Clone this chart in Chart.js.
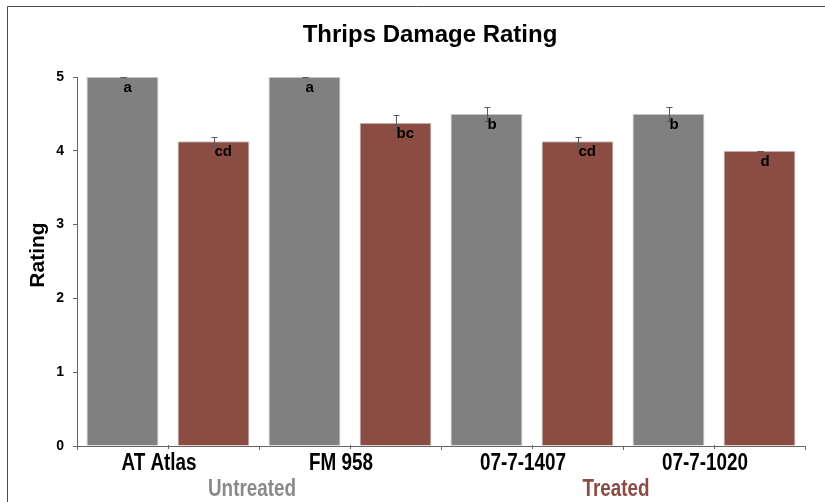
<!DOCTYPE html>
<html>
<head>
    <title>Thrips Damage Rating</title>
    <script src="https://cdn.jsdelivr.net/npm/chart.js@4.4.1/dist/chart.umd.min.js"></script>
    <style>
        body {
            margin: 0;
            padding: 0;
            background: #ffffff;
        }
        #wrap {
            width: 825px;
            height: 502px;
        }
    </style>
</head>
<body>
    <div id="wrap">
        <canvas id="barChart" width="825" height="502"></canvas>
    </div>

    <script>
        // chart values
        const categories = ['AT Atlas', 'FM 958', '07-7-1407', '07-7-1020'];
        const untreated = [5, 5, 4.5, 4.5];
        const treated = [4.13, 4.38, 4.13, 4.0];
        const untreatedErr = [0, 0, 0.09, 0.09];
        const treatedErr = [0.06, 0.1, 0.06, 0];
        const untreatedLetters = ['a', 'a', 'b', 'b'];
        const treatedLetters = ['cd', 'bc', 'cd', 'd'];
        const yTicks = [0, 1, 2, 3, 4, 5];

        const font = '"Liberation Sans", Arial, sans-serif';
        const grey = '#808080';
        const brown = '#8b4c43';

        // the original uses a condensed bold face, so squeeze Liberation Sans a bit
        function narrowText(ctx, text, cx, y, size, color) {
            ctx.save();
            ctx.translate(cx, y);
            ctx.scale(0.82, 1);
            ctx.font = 'bold ' + size + 'px ' + font;
            ctx.fillStyle = color;
            ctx.textAlign = 'center';
            ctx.textBaseline = 'alphabetic';
            ctx.fillText(text, 0, 0);
            ctx.restore();
        }

        // error bars, letters, extra ticks and the text round the plot
        const extras = {
            id: 'extras',
            afterDraw(chart) {
                const ctx = chart.ctx;
                const x = chart.scales.x;
                const y = chart.scales.y;
                ctx.save();

                // frame (left + top only)
                ctx.strokeStyle = '#4a4a4a';
                ctx.lineWidth = 1;
                ctx.beginPath();
                ctx.moveTo(7.5, 502);
                ctx.lineTo(7.5, 6.5);
                ctx.lineTo(825, 6.5);
                ctx.stroke();

                // tick marks at category centres + category names
                ctx.strokeStyle = '#666666';
                ctx.beginPath();
                categories.forEach((c, i) => {
                    const px = Math.round(x.getPixelForValue(i)) + 0.5;
                    ctx.moveTo(px, y.bottom - 1);
                    ctx.lineTo(px, y.bottom + 3);
                });
                ctx.stroke();
                categories.forEach((c, i) => {
                    narrowText(ctx, c, x.getPixelForValue(i) - 9, 470, 23, '#000000');
                });

                chart.data.datasets.forEach((ds, di) => {
                    const meta = chart.getDatasetMeta(di);
                    meta.data.forEach((bar, i) => {
                        const v = ds.data[i];
                        const e = ds.err[i];
                        const cx = Math.round(bar.x) + 0.5;
                        const yt = Math.round(y.getPixelForValue(v + e)) + 0.5;
                        const yb = Math.round(y.getPixelForValue(v - e)) + 0.5;
                        ctx.strokeStyle = '#5a5a5a';
                        ctx.beginPath();
                        ctx.moveTo(cx, yt);
                        ctx.lineTo(cx, yb);
                        ctx.moveTo(cx - 3, yt);
                        ctx.lineTo(cx + 3, yt);
                        ctx.moveTo(cx - 3, yb);
                        ctx.lineTo(cx + 3, yb);
                        ctx.stroke();

                        ctx.fillStyle = '#000000';
                        ctx.font = 'bold 15px ' + font;
                        ctx.textAlign = 'left';
                        ctx.textBaseline = 'alphabetic';
                        ctx.fillText(ds.letters[i], bar.x + 1, bar.y + 15);
                    });
                });

                // title
                ctx.fillStyle = '#000000';
                ctx.font = 'bold 24px ' + font;
                ctx.textAlign = 'center';
                ctx.textBaseline = 'alphabetic';
                ctx.fillText('Thrips Damage Rating', 430, 42);

                // y axis title
                ctx.save();
                ctx.translate(44, 255);
                ctx.rotate(-Math.PI / 2);
                ctx.font = 'bold 21px ' + font;
                ctx.fillText('Rating', 0, 0);
                ctx.restore();

                // treatment labels under the axis
                narrowText(ctx, 'Untreated', 252, 496, 23, '#8a8a8a');
                narrowText(ctx, 'Treated', 616, 496, 23, '#8b4a43');

                ctx.restore();
            }
        };

        var barCtx = document.getElementById('barChart').getContext('2d');

        var barChart = new Chart(barCtx, {
            type: 'bar',
            data: {
                labels: categories,
                datasets: [{
                    label: 'Untreated',
                    data: untreated,
                    err: untreatedErr,
                    letters: untreatedLetters,
                    backgroundColor: grey,
                    borderColor: '#c4c4c4',
                    borderWidth: 1,
                    barPercentage: 0.79,
                    categoryPercentage: 1.0
                }, {
                    label: 'Treated',
                    data: treated,
                    err: treatedErr,
                    letters: treatedLetters,
                    backgroundColor: brown,
                    borderColor: '#c4c4c4',
                    borderWidth: 1,
                    barPercentage: 0.79,
                    categoryPercentage: 1.0
                }]
            },
            options: {
                responsive: false,
                animation: false,
                layout: {
                    padding: { left: 0, right: 20, top: 77, bottom: 0 }
                },
                plugins: {
                    legend: { display: false },
                    tooltip: { enabled: false },
                    title: { display: false }
                },
                scales: {
                    x: {
                        offset: true,
                        afterFit: function (scale) { scale.height = 56; },
                        grid: {
                            offset: true,
                            drawOnChartArea: false,
                            drawTicks: true,
                            tickLength: 4,
                            color: '#666666'
                        },
                        border: { display: true, color: '#666666', width: 1 },
                        ticks: { display: false }
                    },
                    y: {
                        min: 0,
                        max: 5,
                        afterFit: function (scale) { scale.width = 77; },
                        afterBuildTicks: function (scale) {
                            scale.ticks = yTicks.map(v => ({ value: v }));
                        },
                        grid: {
                            drawOnChartArea: false,
                            drawTicks: true,
                            tickLength: 4,
                            color: '#666666'
                        },
                        border: { display: true, color: '#666666', width: 1 },
                        ticks: {
                            color: '#000000',
                            padding: 9,
                            font: { family: font, size: 14, weight: 'bold' }
                        }
                    }
                }
            },
            plugins: [extras]
        });
    </script>
</body>
</html>
